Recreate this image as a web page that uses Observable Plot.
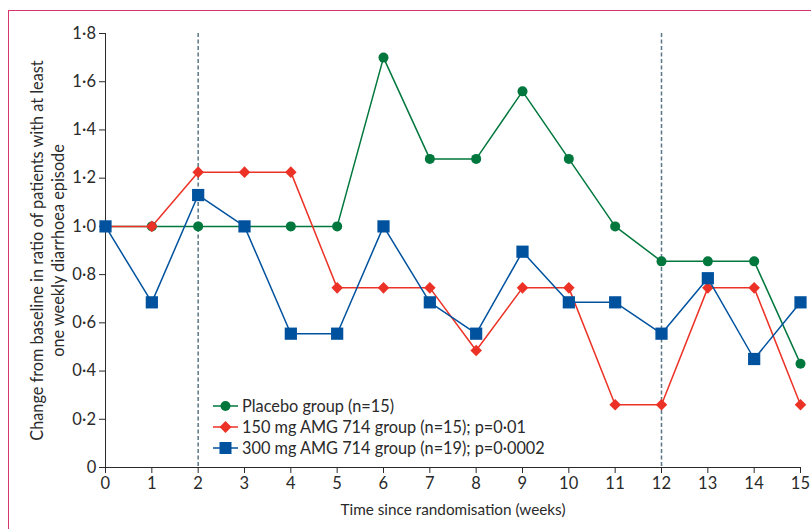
<!DOCTYPE html>
<html>
<head>
<meta charset="utf-8">
<script src="https://cdn.jsdelivr.net/npm/d3@7"></script>
<script src="https://cdn.jsdelivr.net/npm/@observablehq/plot@0.6"></script>
<style>
  html, body { margin: 0; padding: 0; background: #fff; }
  #wrap { position: relative; width: 811px; height: 529px; overflow: hidden; }
  #frame { position: absolute; left: 8px; top: 10px; right: -10px; bottom: -10px;
           border-top: 1.5px solid #d4376c; border-left: 1.5px solid #d4376c; pointer-events: none; }
  #chart { position: absolute; left: 0; top: 0; }
</style>
</head>
<body>
<div id="wrap"><div id="chart"></div><div id="frame"></div></div>
<script>
// ---- data ----
const weeks   = [0, 1, 2, 3, 4, 5, 6, 7, 8, 9, 10, 11, 12, 13, 14, 15];
const placebo = [1.0, 1.0, 1.0, 1.0, 1.0, 1.0, 1.70, 1.28, 1.28, 1.56, 1.28, 1.0, 0.855, 0.855, 0.855, 0.43];
const amg150  = [1.0, 1.0, 1.225, 1.225, 1.225, 0.745, 0.745, 0.745, 0.485, 0.745, 0.745, 0.26, 0.26, 0.745, 0.745, 0.26];
const amg300  = [1.0, 0.685, 1.13, 1.0, 0.555, 0.555, 1.0, 0.685, 0.555, 0.895, 0.685, 0.685, 0.555, 0.785, 0.45, 0.685];
const seriesNames = ["Placebo group (n=15)", "150 mg AMG 714 group (n=15); p=0·01", "300 mg AMG 714 group (n=19); p=0·0002"];
const seriesColors = ["#00773d", "#ec3226", "#00529f"];
const refWeeks = [2, 12];
const xTicks = weeks;
const yTicks = [0, 0.2, 0.4, 0.6, 0.8, 1.0, 1.2, 1.4, 1.6, 1.8];
const yTickLabels = ["0", "0·2", "0·4", "0·6", "0·8", "1·0", "1·2", "1·4", "1·6", "1·8"];
const xLabel = "Time since randomisation (weeks)";
const yLabel = "Change from baseline in ratio of patients with at least\none weekly diarrhoea episode";

const seriesValues = [placebo, amg150, amg300];
const rows = seriesValues.map((vals, s) => weeks.map((w, i) => ({week: w, value: vals[i], series: seriesNames[s]})));

const font = "Lato, 'Open Sans', sans-serif";
const textColor = "#2a2a2a";

const marks = [
  Plot.ruleX(refWeeks, {stroke: "#5a7684", strokeWidth: 1.5, strokeDasharray: "4,2.5"})
];
marks.push(Plot.line(rows[0], {x: "week", y: "value", stroke: seriesColors[0], strokeWidth: 1.5}));
marks.push(Plot.dot(rows[0], {x: "week", y: "value", r: 5, fill: seriesColors[0], stroke: "none"}));
marks.push(Plot.line(rows[1], {x: "week", y: "value", stroke: seriesColors[1], strokeWidth: 1.5}));
marks.push(Plot.dot(rows[1], {x: "week", y: "value", symbol: "square", r: 4.6, rotate: 45, fill: seriesColors[1], stroke: "none"}));
marks.push(Plot.line(rows[2], {x: "week", y: "value", stroke: seriesColors[2], strokeWidth: 1.5}));
marks.push(Plot.dot(rows[2], {x: "week", y: "value", symbol: "square", r: 6.9, fill: seriesColors[2], stroke: "none"}));
marks.push(Plot.text([xLabel], {frameAnchor: "bottom", dy: 47, text: d => d, fontSize: 15.3, fill: textColor}));
marks.push(Plot.text([yLabel], {frameAnchor: "left", dx: -59, rotate: -90, textAnchor: "middle", lineAnchor: "middle", text: d => d, fontSize: 16.3, lineHeight: 1.3, fill: textColor}));

const plot = Plot.plot({
  width: 811,
  height: 529,
  marginLeft: 105,
  marginRight: 11,
  marginTop: 33,
  marginBottom: 62,
  style: {fontFamily: font, fontSize: "15px", color: textColor, background: "transparent"},
  x: {domain: [0, 15], ticks: xTicks, tickFormat: d => String(d), line: true, label: null, tickSize: 6, tickPadding: 4},
  y: {domain: [0, 1.8], ticks: yTicks, tickFormat: d => yTickLabels[yTicks.findIndex(t => Math.abs(t - d) < 1e-9)], line: true, label: null, tickSize: 6, tickPadding: 3},
  marks
});
document.getElementById("chart").appendChild(plot);

const svgNode = plot.tagName.toLowerCase() === "svg" ? plot : plot.querySelector("svg");
const svg = d3.select(svgNode);
// enlarge axis tick labels
const tickTexts = new Set([...xTicks.map(String), ...yTickLabels]);
svg.selectAll("text").filter(function () { return tickTexts.has(this.textContent.trim()); })
  .style("font-size", "16.5px").style("letter-spacing", "0.3px");

// ---- legend (inside plot area) ----
const lg = svg.append("g").attr("font-family", font).attr("font-size", 16.3).attr("text-anchor", "start");
seriesNames.forEach((name, i) => {
  const y = 406 + i * 21;
  const g = lg.append("g").attr("transform", `translate(213,${y})`);
  g.append("line").attr("x1", 0).attr("x2", 25).attr("y1", 0).attr("y2", 0)
    .attr("stroke", seriesColors[i]).attr("stroke-width", 1.5);
  if (i === 0) g.append("circle").attr("cx", 12.5).attr("cy", 0).attr("r", 5).attr("fill", seriesColors[i]);
  if (i === 1) g.append("path").attr("d", "M12.5,-6L18.5,0L12.5,6L6.5,0Z").attr("fill", seriesColors[i]);
  if (i === 2) g.append("rect").attr("x", 6.5).attr("y", -6).attr("width", 12).attr("height", 12).attr("fill", seriesColors[i]);
  g.append("text").attr("x", 29).attr("y", 0).attr("dy", "0.35em").attr("text-anchor", "start").attr("fill", textColor).text(name);
});
</script>
</body>
</html>
